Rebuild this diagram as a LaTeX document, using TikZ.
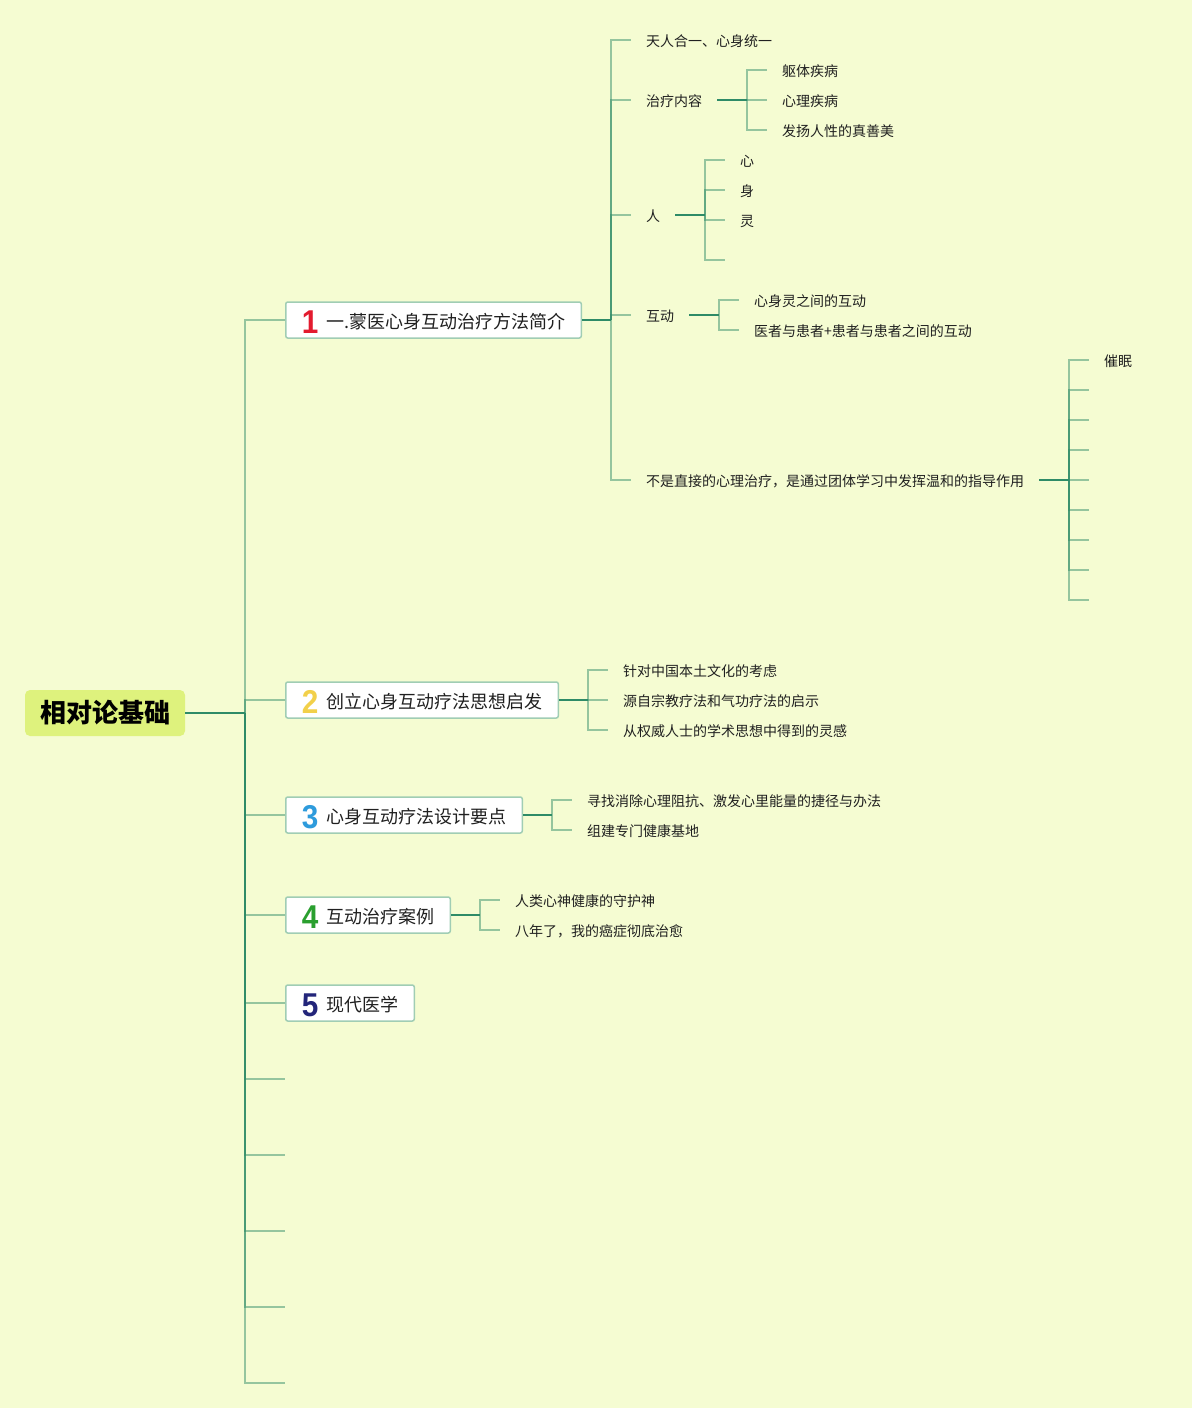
\documentclass[tikz,border=0pt]{standalone}
\usepackage{fontspec}
\setmainfont{Noto Sans CJK SC}
\newfontfamily\numfont{Liberation Sans}
\usetikzlibrary{calc}
\definecolor{bg}{HTML}{F5FCD2}
\definecolor{br}{HTML}{2E8B67}
\definecolor{rootfill}{HTML}{DEF27D}
\definecolor{boxline}{HTML}{A0CDB4}
\definecolor{txt}{HTML}{202020}
\definecolor{cone}{HTML}{E31B2E}
\definecolor{ctwo}{HTML}{F2D04A}
\definecolor{cthree}{HTML}{2E9BDC}
\definecolor{cfour}{HTML}{2A9F2F}
\definecolor{cfive}{HTML}{23257A}
\newcommand{\numicon}[2]{\raisebox{-5pt}[0pt][0pt]{\scalebox{0.9}[1]{\textcolor{#1}{\numfont\bfseries\fontsize{33pt}{33pt}\selectfont #2}}}\hspace{8pt}}
\tikzset{
  leaf/.style={anchor=west, inner sep=0pt, text=txt, text height=12.6pt, text depth=0pt,
    font=\fontsize{14pt}{16pt}\selectfont},
  topic/.style={draw=boxline, line width=1.5pt, fill=white, rounded corners=2pt,
    minimum height=36pt, inner xsep=16pt, inner ysep=0pt, anchor=west, text=txt,
    text height=16.7pt, text depth=0pt, font=\fontsize{18pt}{20pt}\selectfont},
  rootbox/.style={fill=rootfill, rounded corners=5pt, minimum width=160pt, minimum height=46pt,
    inner sep=0pt, text=black, font=\bfseries\fontsize{26pt}{30pt}\selectfont},
  conn/.style={draw=br, line width=2pt},
  branch/.style={draw=br, draw opacity=0.48, line width=2pt},
}
\begin{document}
\begin{tikzpicture}[x=1pt,y=-1pt]
\useasboundingbox (0,0) rectangle (1192,1408);
\fill[bg] (0,0) rectangle (1192,1408);

% root
\node[rootbox] (root) at (105,713) {相对论基础};
\coordinate (J0) at (245,713);

% topics
\node[topic] (t1) at (285,320) {\numicon{cone}{1}一.蒙医心身互动治疗方法简介};
\node[topic] (t2) at (285,700) {\numicon{ctwo}{2}创立心身互动疗法思想启发};
\node[topic] (t3) at (285,815) {\numicon{cthree}{3}心身互动疗法设计要点};
\node[topic] (t4) at (285,915) {\numicon{cfour}{4}互动治疗案例};
\node[topic] (t5) at (285,1003) {\numicon{cfive}{5}现代医学};
\coordinate (e1) at (285,1079);
\coordinate (e2) at (285,1155);
\coordinate (e3) at (285,1231);
\coordinate (e4) at (285,1307);
\coordinate (e5) at (285,1383);

\draw[conn] (root.east) -- (J0);
\foreach \n in {t1,t2,t3,t4,t5} \draw[branch] (J0) |- (\n.west);
\foreach \n in {e1,e2,e3,e4,e5} \draw[branch] (J0) |- (\n);

% topic 1 subtree
\coordinate (J1) at (611,320);
\draw[conn] (t1.east) -- (J1);
\node[leaf] (a1) at (646,40) {天人合一、心身统一};
\node[leaf] (a2) at (646,100) {治疗内容};
\node[leaf] (a3) at (646,215) {人};
\node[leaf] (a4) at (646,315) {互动};
\node[leaf] (a5) at (646,480) {不是直接的心理治疗，是通过团体学习中发挥温和的指导作用};
\foreach \n in {a1,a2,a3,a4,a5} \draw[branch] (J1) |- ([xshift=-15pt]\n.west);

% 治疗内容
\coordinate (J2) at (747,100);
\draw[conn] ([xshift=15pt]a2.east) -- (J2);
\node[leaf] (b1) at (782,70) {躯体疾病};
\node[leaf] (b2) at (782,100) {心理疾病};
\node[leaf] (b3) at (782,130) {发扬人性的真善美};
\foreach \n in {b1,b2,b3} \draw[branch] (J2) |- ([xshift=-15pt]\n.west);

% 人
\coordinate (J3) at (705,215);
\draw[conn] ([xshift=15pt]a3.east) -- (J3);
\node[leaf] (c1) at (740,160) {心};
\node[leaf] (c2) at (740,190) {身};
\node[leaf] (c3) at (740,220) {灵};
\coordinate (c4) at (725,260);
\foreach \n in {c1,c2,c3} \draw[branch] (J3) |- ([xshift=-15pt]\n.west);
\draw[branch] (J3) |- (c4);

% 互动
\coordinate (J4) at (719,315);
\draw[conn] ([xshift=15pt]a4.east) -- (J4);
\node[leaf] (d1) at (754,300) {心身灵之间的互动};
\node[leaf] (d2) at (754,330) {医者与患者+患者与患者之间的互动};
\foreach \n in {d1,d2} \draw[branch] (J4) |- ([xshift=-15pt]\n.west);

% 不是直接的心理治疗
\coordinate (J5) at (1069,480);
\draw[conn] ([xshift=15pt]a5.east) -- (J5);
\node[leaf] (f1) at (1104,360) {催眠};
\draw[branch] (J5) |- ([xshift=-15pt]f1.west);
\foreach \y [count=\i] in {390,420,450,480,510,540,570,600} {
  \coordinate (g\i) at (1089,\y);
  \draw[branch] (J5) |- (g\i);
}

% topic 2 subtree
\coordinate (J6) at (588,700);
\draw[conn] (t2.east) -- (J6);
\node[leaf] (h1) at (623,670) {针对中国本土文化的考虑};
\node[leaf] (h2) at (623,700) {源自宗教疗法和气功疗法的启示};
\node[leaf] (h3) at (623,730) {从权威人士的学术思想中得到的灵感};
\foreach \n in {h1,h2,h3} \draw[branch] (J6) |- ([xshift=-15pt]\n.west);

% topic 3 subtree
\coordinate (J7) at (552,815);
\draw[conn] (t3.east) -- (J7);
\node[leaf] (k1) at (587,800) {寻找消除心理阻抗、激发心里能量的捷径与办法};
\node[leaf] (k2) at (587,830) {组建专门健康基地};
\foreach \n in {k1,k2} \draw[branch] (J7) |- ([xshift=-15pt]\n.west);

% topic 4 subtree
\coordinate (J8) at (480,915);
\draw[conn] (t4.east) -- (J8);
\node[leaf] (m1) at (515,900) {人类心神健康的守护神};
\node[leaf] (m2) at (515,930) {八年了，我的癌症彻底治愈};
\foreach \n in {m1,m2} \draw[branch] (J8) |- ([xshift=-15pt]\n.west);
\end{tikzpicture}
\end{document}
